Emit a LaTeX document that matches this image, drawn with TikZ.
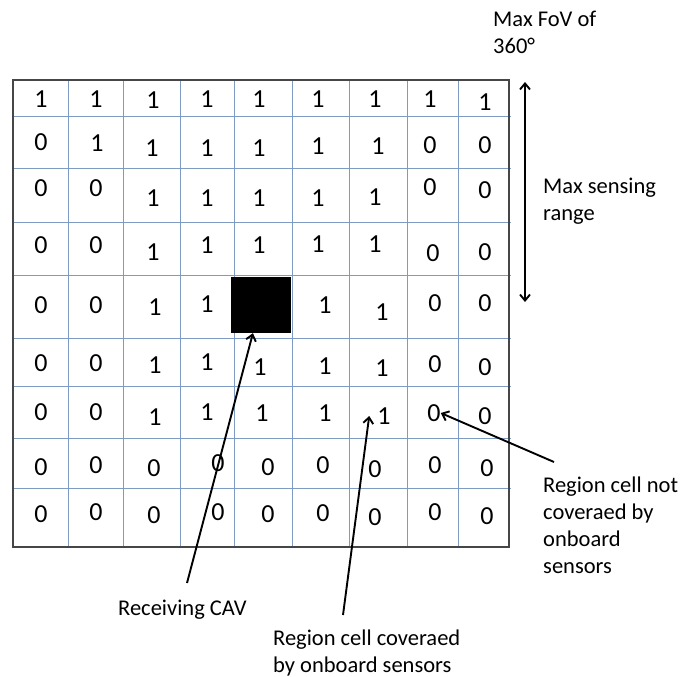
\documentclass[tikz,border=0pt]{standalone}
\usepackage{fontspec}
\setmainfont{Carlito}
\usepackage{tikz}
\usetikzlibrary{arrows.meta}
\definecolor{gridblue}{RGB}{125,155,195}
\definecolor{gridframe}{RGB}{70,70,70}

\begin{document}
\begin{tikzpicture}[x=1pt,y=-1pt,>={Straight Barb[length=6pt,width=10pt]},
  cell/.style={inner sep=0pt,font=\fontsize{26}{31}\selectfont},
  lbl/.style={inner sep=0pt,align=left,anchor=base west,font=\fontsize{22.5}{27}\selectfont},
  pointer/.style={->,line width=1.9pt}]
  \useasboundingbox (0,0) rectangle (680,677);
  % grid of the region cells
  \draw[gridblue, line width=1pt] (68,80) -- (68,547) (123,80) -- (123,547) (180,80) -- (180,547) (234,80) -- (234,547)
    (292,80) -- (292,547) (349,80) -- (349,547) (407,80) -- (407,547) (458,80) -- (458,547);
  \draw[gridblue, line width=1pt] (13,116) -- (511,116) (13,168) -- (511,168) (13,222) -- (511,222) (13,275) -- (511,275)
    (13,338) -- (511,338) (13,386) -- (511,386) (13,438) -- (511,438) (13,488) -- (511,488);
  \node[fill=black,minimum width=60pt,minimum height=56pt,inner sep=0pt] (cav) at (261,305) {};
  \draw[gridframe, line width=1.5pt] (13,80) rectangle (509,547);
  % cell values
  \node[cell] (n11) at (41,99) {1};
  \node[cell] (n12) at (96,99) {1};
  \node[cell] (n13) at (153,100) {1};
  \node[cell] (n14) at (207,99) {1};
  \node[cell] (n15) at (259,99) {1};
  \node[cell] (n16) at (318,99) {1};
  \node[cell] (n17) at (375,99) {1};
  \node[cell] (n18) at (430,99) {1};
  \node[cell] (n19) at (485,102) {1};
  \node[cell] (n21) at (41,142) {0};
  \node[cell] (n22) at (97,143) {1};
  \node[cell] (n23) at (152,148) {1};
  \node[cell] (n24) at (207,148) {1};
  \node[cell] (n25) at (259,148) {1};
  \node[cell] (n26) at (318,146) {1};
  \node[cell] (n27) at (378,146) {1};
  \node[cell] (n28) at (430,145) {0};
  \node[cell] (n29) at (485,145) {0};
  \node[cell] (n31) at (41,188) {0};
  \node[cell] (n32) at (96,188) {0};
  \node[cell] (n33) at (153,198) {1};
  \node[cell] (n34) at (207,198) {1};
  \node[cell] (n35) at (259,198) {1};
  \node[cell] (n36) at (318,198) {1};
  \node[cell] (n37) at (375,197) {1};
  \node[cell] (n38) at (430,187) {0};
  \node[cell] (n39) at (485,190) {0};
  \node[cell] (n41) at (41,245) {0};
  \node[cell] (n42) at (96,245) {0};
  \node[cell] (n43) at (153,252) {1};
  \node[cell] (n44) at (207,245) {1};
  \node[cell] (n45) at (259,245) {1};
  \node[cell] (n46) at (318,244) {1};
  \node[cell] (n47) at (375,244) {1};
  \node[cell] (n48) at (433,253) {0};
  \node[cell] (n49) at (485,252) {0};
  \node[cell] (n51) at (41,305) {0};
  \node[cell] (n52) at (96,305) {0};
  \node[cell] (n53) at (155,307) {1};
  \node[cell] (n54) at (207,304) {1};
  \node[cell] (n56) at (325,305) {1};
  \node[cell] (n57) at (382,312) {1};
  \node[cell] (n58) at (435,303) {0};
  \node[cell] (n59) at (485,303) {0};
  \node[cell] (n61) at (41,363) {0};
  \node[cell] (n62) at (96,363) {0};
  \node[cell] (n63) at (155,365) {1};
  \node[cell] (n64) at (207,362) {1};
  \node[cell] (n65) at (260,367) {1};
  \node[cell] (n66) at (325,366) {1};
  \node[cell] (n67) at (382,368) {1};
  \node[cell] (n68) at (435,364) {0};
  \node[cell] (n69) at (485,367) {0};
  \node[cell] (n71) at (41,412) {0};
  \node[cell] (n72) at (96,412) {0};
  \node[cell] (n73) at (155,417) {1};
  \node[cell] (n74) at (207,412) {1};
  \node[cell] (n75) at (262,413) {1};
  \node[cell] (n76) at (325,413) {1};
  \node[cell] (n77) at (384,416) {1};
  \node[cell] (n78) at (434,413) {0};
  \node[cell] (n79) at (485,416) {0};
  \node[cell] (n81) at (41,467) {0};
  \node[cell] (n82) at (96,465) {0};
  \node[cell] (n83) at (154,468) {0};
  \node[cell] (n84) at (218,463) {0};
  \node[cell] (n85) at (268,467) {0};
  \node[cell] (n86) at (323,465) {0};
  \node[cell] (n87) at (375,469) {0};
  \node[cell] (n88) at (435,465) {0};
  \node[cell] (n89) at (487,468) {0};
  \node[cell] (n91) at (41,514) {0};
  \node[cell] (n92) at (96,512) {0};
  \node[cell] (n93) at (154,515) {0};
  \node[cell] (n94) at (218,512) {0};
  \node[cell] (n95) at (268,514) {0};
  \node[cell] (n96) at (323,513) {0};
  \node[cell] (n97) at (375,517) {0};
  \node[cell] (n98) at (435,512) {0};
  \node[cell] (n99) at (487,516) {0};
  % labels (base = last line)
  \node[lbl] (fov) at (493,54) {Max FoV of\\360°};
  \node[lbl] (range) at (543,220) {Max sensing\\range};
  \node[lbl] (notcov) at (543,573) {Region cell not\\coveraed by\\onboard\\sensors};
  \node[lbl] (recv) at (118,615) {Receiving CAV};
  \node[lbl] (cov) at (273,672) {Region cell coveraed\\by onboard sensors};
  % pointers
  \coordinate (rangetop) at (525,82);
  \coordinate (rangebot) at (525,302);
  \draw[<->, line width=1.9pt] (rangetop) -- (rangebot);
  \coordinate (cavtail) at (187,583);
  \draw[pointer] (cavtail) -- (cav.-106);
  \coordinate (covtail) at (343,615);
  \draw[pointer] (covtail) -- ([xshift=-8pt]n77.west);
  \coordinate (notcovtail) at (554,462);
  \draw[pointer] (notcovtail) -- (n78.east);
\end{tikzpicture}
\end{document}
